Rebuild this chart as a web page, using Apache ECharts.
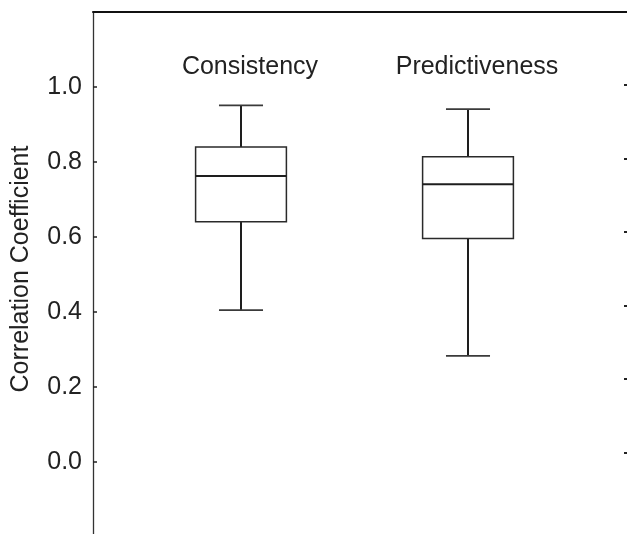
<!DOCTYPE html>
<html>
<head>
<meta charset="utf-8">
<script src="https://cdn.jsdelivr.net/npm/echarts@6/dist/echarts.min.js"></script>
<style>
  html, body { margin: 0; padding: 0; background: #fff; }
  #chart { width: 627px; height: 534px; }
</style>
</head>
<body>
<div id="chart"></div>
<script>
// Box plot summary of correlation coefficients per measure
const categories = ['Consistency', 'Predictiveness'];
const lowerWhisker = [0.405, 0.283];
const q1 = [0.641, 0.596];
const median = [0.763, 0.741];
const q3 = [0.840, 0.814];
const upperWhisker = [0.951, 0.941];
const tickValues = [0, 0.2, 0.4, 0.6, 0.8, 1.0];

const FONT = '"Liberation Sans", Arial, Helvetica, sans-serif';
const boxData = categories.map((c, i) => [i, lowerWhisker[i], q1[i], median[i], q3[i], upperWhisker[i]]);

const chart = echarts.init(document.getElementById('chart'), null, { renderer: 'canvas' });

function renderBox(params, api) {
  const i = api.value(0);
  const band = api.size([1, 0])[0];
  const boxHalf = band * 0.2;
  const capHalf = band * 0.097;
  const pLo = api.coord([i, api.value(1)]);
  const pQ1 = api.coord([i, api.value(2)]);
  const pMed = api.coord([i, api.value(3)]);
  const pQ3 = api.coord([i, api.value(4)]);
  const pHi = api.coord([i, api.value(5)]);
  const x = pMed[0];
  const dark = { stroke: '#1e1e1e', lineWidth: 2 };
  const edge = { stroke: '#2a2a2a', lineWidth: 1.5, fill: 'none' };
  const cap = { stroke: '#3a3a3a', lineWidth: 1.6 };
  return {
    type: 'group',
    children: [
      { type: 'line', shape: { x1: x, y1: pHi[1], x2: x, y2: pQ3[1] }, style: dark },
      { type: 'line', shape: { x1: x, y1: pQ1[1], x2: x, y2: pLo[1] }, style: dark },
      { type: 'line', shape: { x1: x - capHalf, y1: pHi[1], x2: x + capHalf, y2: pHi[1] }, style: cap },
      { type: 'line', shape: { x1: x - capHalf, y1: pLo[1], x2: x + capHalf, y2: pLo[1] }, style: cap },
      { type: 'rect', shape: { x: x - boxHalf, y: pQ3[1], width: boxHalf * 2, height: pQ1[1] - pQ3[1] }, style: edge },
      { type: 'line', shape: { x1: x - boxHalf, y1: pMed[1], x2: x + boxHalf, y2: pMed[1] }, style: dark }
    ]
  };
}

const option = {
  backgroundColor: '#ffffff',
  animation: false,
  grid: [
    { left: 93, right: -1, top: 12, bottom: 0 },
    { left: 127.5, width: 454, top: 12, bottom: 0 }
  ],
  xAxis: [
    {
      gridIndex: 0, type: 'value', position: 'top', min: 0, max: 1,
      axisLine: { show: true, onZero: false, lineStyle: { color: '#111', width: 2 } },
      axisTick: { show: false }, axisLabel: { show: false }, splitLine: { show: false }
    },
    {
      gridIndex: 1, type: 'category', position: 'top', data: categories,
      axisLine: { show: false, onZero: false }, axisTick: { show: false }, splitLine: { show: false },
      axisLabel: {
        inside: true, margin: 43, color: '#222', fontFamily: FONT, fontSize: 25,
        padding: [0, 0, 0, 18]
      }
    }
  ],
  yAxis: [
    {
      gridIndex: 0, type: 'value', position: 'left', min: -0.192, max: 1.2,
      name: 'Correlation Coefficient', nameLocation: 'middle', nameGap: 59,
      nameTextStyle: { color: '#222', fontFamily: FONT, fontSize: 25, padding: [0, 0, 0, 8] },
      axisLine: { show: true, onZero: false, lineStyle: { color: '#333', width: 1.3 } },
      axisTick: { show: true, inside: true, length: 4, customValues: tickValues, lineStyle: { color: '#222', width: 1.5 } },
      axisLabel: {
        customValues: tickValues, margin: 11, color: '#222', fontFamily: FONT, fontSize: 25,
        formatter: v => v.toFixed(1)
      },
      splitLine: { show: false }
    },
    {
      gridIndex: 0, type: 'value', position: 'right', min: -0.221, max: 1.1985,
      axisLine: { show: false, onZero: false },
      axisTick: { show: true, inside: true, length: 3, customValues: tickValues, lineStyle: { color: '#222', width: 2 } },
      axisLabel: { show: false }, splitLine: { show: false }
    },
    {
      gridIndex: 1, type: 'value', min: -0.192, max: 1.2, show: false
    }
  ],
  series: [
    {
      type: 'custom',
      xAxisIndex: 1,
      yAxisIndex: 2,
      renderItem: renderBox,
      data: boxData,
      encode: { x: 0, y: [1, 2, 3, 4, 5] }
    }
  ]
};

chart.setOption(option);
</script>
</body>
</html>
